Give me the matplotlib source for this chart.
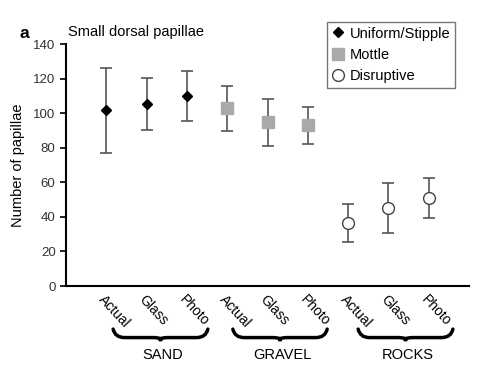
import matplotlib
matplotlib.use("Agg")
import matplotlib.pyplot as plt
from matplotlib.path import Path
from matplotlib.patches import PathPatch
import matplotlib.transforms as mtransforms

plt.rcParams['font.family'] = ['Liberation Sans', 'DejaVu Sans']

# conditions within each background
conditions = ["Actual", "Glass", "Photo"]
backgrounds = ["SAND", "GRAVEL", "ROCKS"]
patterns = ["Uniform/Stipple", "Mottle", "Disruptive"]

# means and error bar ends (lower, upper)
means = [101.8, 105.3, 109.7, 102.8, 95.0, 92.9, 36.6, 44.9, 50.9]
lower = [77.0, 90.2, 95.6, 89.7, 81.2, 82.0, 25.5, 30.7, 39.3]
upper = [126.3, 120.5, 124.2, 115.9, 108.4, 103.5, 47.4, 59.4, 62.5]

fig = plt.figure(figsize=(5, 3.86), dpi=100)
ax = fig.add_axes([0.132, 0.259, 0.806, 0.627])

styles = [
    dict(marker="D", color="black", markeredgecolor="black", markersize=5.5),
    dict(marker="s", color="#a9a9a9", markeredgecolor="#a9a9a9", markersize=8),
    dict(marker="o", color="white", markeredgecolor="#444444", markersize=8.5, markeredgewidth=1),
]

x = list(range(1, 10))
for g in range(3):
    xs = x[g*3:g*3+3]
    m = means[g*3:g*3+3]
    lo = [mm - l for mm, l in zip(m, lower[g*3:g*3+3])]
    hi = [u - mm for mm, u in zip(m, upper[g*3:g*3+3])]
    ax.errorbar(xs, m, yerr=[lo, hi], fmt="none", ecolor="#555555",
                elinewidth=1.2, capsize=4, capthick=1.2, zorder=2)
    ax.plot(xs, m, linestyle="none", label=patterns[g], zorder=3, **styles[g])

ax.set_xlim(0, 10)
ax.set_ylim(0, 140)
ax.set_yticks(range(0, 141, 20))
ax.tick_params(axis="y", labelsize=9.5, colors="black", length=4, width=1.2,
               direction="out")
for lab in ax.get_yticklabels():
    lab.set_color("#333333")
ax.set_xticks(x)
ax.set_xticklabels(conditions * 3, rotation=-47, ha="left", va="top",
                   rotation_mode="anchor", fontsize=10)
ax.tick_params(axis="x", length=0, pad=5)
for sp in ["top", "right"]:
    ax.spines[sp].set_visible(False)
for sp in ["left", "bottom"]:
    ax.spines[sp].set_linewidth(1.5)

ax.set_ylabel("Number of papillae", fontsize=10.5, labelpad=6)
ax.text(0.005, 1.02, "Small dorsal papillae", transform=ax.transAxes,
        fontsize=10.5, ha="left", va="bottom")
fig.text(0.04, 0.895, "a", fontsize=12.5, fontweight="bold", ha="left", va="bottom")

leg = ax.legend(loc="upper left", bbox_to_anchor=(0.647, 1.09), fontsize=10.5,
                frameon=True, fancybox=False, handletextpad=0.4,
                handlelength=0.9, borderpad=0.3, labelspacing=0.5,
                borderaxespad=0.0)
leg.get_frame().set_edgecolor("#555555")
leg.get_frame().set_linewidth(1.0)

# curly braces under each background group
trans = mtransforms.blended_transform_factory(ax.transData, ax.transAxes)
brace_spans = [(1.17, 3.52), (4.14, 6.48), (7.25, 9.6)]
ytop, ymid, ybot = -0.178, -0.213, -0.238
for (x0, x1), name in zip(brace_spans, backgrounds):
    xc = (x0 + x1) / 2
    w = x1 - x0
    verts = [
        (x0, ytop), (x0 + 0.02 * w, ymid), (x0 + 0.12 * w, ymid),
        (xc - 0.08 * w, ymid),
        (xc - 0.02 * w, ymid), (xc, ymid - 0.005), (xc, ybot),
        (xc, ymid - 0.005), (xc + 0.02 * w, ymid), (xc + 0.08 * w, ymid),
        (x1 - 0.12 * w, ymid),
        (x1 - 0.02 * w, ymid), (x1, ytop),
    ]
    codes = [Path.MOVETO, Path.CURVE3, Path.CURVE3,
             Path.LINETO,
             Path.CURVE3, Path.CURVE3, Path.CURVE3,
             Path.CURVE3, Path.CURVE3, Path.CURVE3,
             Path.LINETO,
             Path.CURVE3, Path.CURVE3]
    patch = PathPatch(Path(verts, codes), transform=trans, fill=False,
                      edgecolor="black", linewidth=2.5, clip_on=False,
                      capstyle="round")
    ax.add_patch(patch)
    ax.text(xc + 0.05, -0.285, name, transform=trans, ha="center", va="center",
            fontsize=10.5)

fig.savefig("out.png", dpi=100)
